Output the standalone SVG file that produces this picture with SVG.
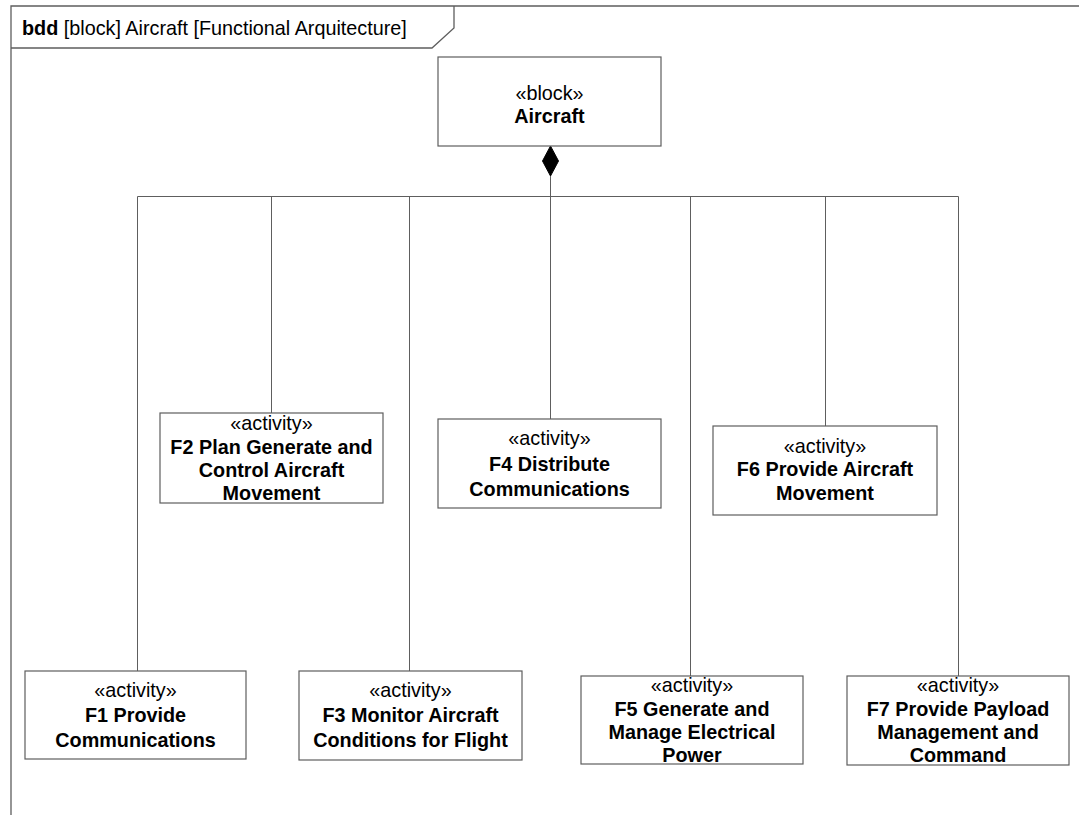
<svg xmlns="http://www.w3.org/2000/svg" width="1079" height="815" viewBox="0 0 1079 815">
<style>
.frame{fill:none;stroke:#5e5e5e;stroke-width:1.3}
.box{fill:#fff;stroke:#5e5e5e;stroke-width:1.2}
.conn{fill:none;stroke:#5e5e5e;stroke-width:1}
text{font-family:"Liberation Sans",Arial,sans-serif;font-size:19.8px;fill:#000}
.c{text-anchor:middle}
.b{font-weight:bold}
</style>
<rect width="1079" height="815" fill="#fff"/>
<g id="frame">
<path class="frame" d="M11,815 V6 H1079"/>
<path class="frame" d="M11,48 H432 L454,28 V6"/>
<text x="22" y="35"><tspan class="b">bdd</tspan> [block] Aircraft [Functional Arquitecture]</text>
</g>
<g id="connectors">
<path class="conn" d="M550.5,176 V196.5 H137.5 V671"/>
<path class="conn" d="M271.5,196.5 V413"/>
<path class="conn" d="M409.5,196.5 V671"/>
<path class="conn" d="M550.5,176 V419"/>
<path class="conn" d="M550.5,196.5 H958.5 V676"/>
<path class="conn" d="M690.5,196.5 V676"/>
<path class="conn" d="M825.5,196.5 V426"/>
<path d="M550.5,146 L558.5,161 L550.5,176 L542.5,161 Z" fill="#000" stroke="#000" stroke-width="1"/>
</g>
<g id="aircraft">
<rect class="box" x="438" y="57" width="223" height="89"/>
<text class="c" x="549.5" y="100">«block»</text>
<text class="c b" x="549.5" y="123">Aircraft</text>
</g>
<g id="f1">
<rect class="box" x="25" y="671" width="221" height="88"/>
<text class="c" x="135.5" y="697">«activity»</text>
<text class="c b" x="135.5" y="722">F1 Provide</text>
<text class="c b" x="135.5" y="747">Communications</text>
</g>
<g id="f2">
<rect class="box" x="160" y="413" width="223" height="90"/>
<text class="c" x="271.5" y="430">«activity»</text>
<text class="c b" x="271.5" y="454">F2 Plan Generate and</text>
<text class="c b" x="271.5" y="477">Control Aircraft</text>
<text class="c b" x="271.5" y="500">Movement</text>
</g>
<g id="f3">
<rect class="box" x="299" y="671" width="223" height="89"/>
<text class="c" x="410.5" y="697">«activity»</text>
<text class="c b" x="410.5" y="722">F3 Monitor Aircraft</text>
<text class="c b" x="410.5" y="747">Conditions for Flight</text>
</g>
<g id="f4">
<rect class="box" x="438" y="419" width="223" height="89"/>
<text class="c" x="549.5" y="445">«activity»</text>
<text class="c b" x="549.5" y="471">F4 Distribute</text>
<text class="c b" x="549.5" y="496">Communications</text>
</g>
<g id="f5">
<rect class="box" x="581" y="676" width="222" height="88"/>
<text class="c" x="692" y="692">«activity»</text>
<text class="c b" x="692" y="716">F5 Generate and</text>
<text class="c b" x="692" y="739">Manage Electrical</text>
<text class="c b" x="692" y="762">Power</text>
</g>
<g id="f6">
<rect class="box" x="713" y="426" width="224" height="89"/>
<text class="c" x="825" y="453">«activity»</text>
<text class="c b" x="825" y="476">F6 Provide Aircraft</text>
<text class="c b" x="825" y="500">Movement</text>
</g>
<g id="f7">
<rect class="box" x="847" y="676" width="222" height="89"/>
<text class="c" x="958" y="692">«activity»</text>
<text class="c b" x="958" y="716">F7 Provide Payload</text>
<text class="c b" x="958" y="739">Management and</text>
<text class="c b" x="958" y="762">Command</text>
</g>
</svg>
